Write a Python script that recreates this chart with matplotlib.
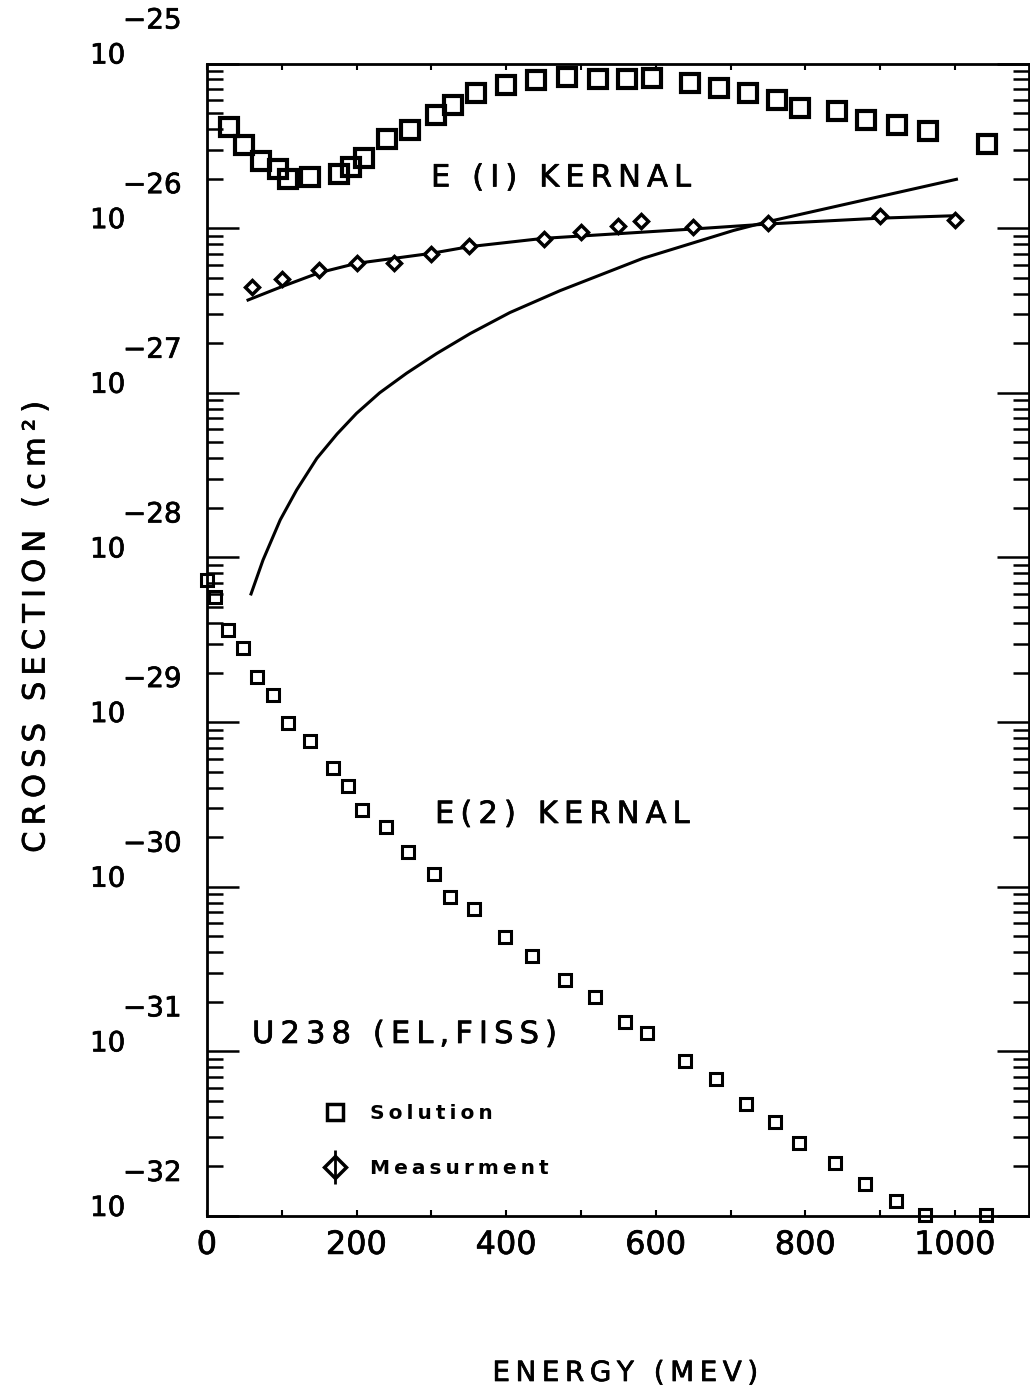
import matplotlib
matplotlib.use("Agg")
import matplotlib.pyplot as plt
import matplotlib.patheffects as pe
from matplotlib.ticker import LogLocator, MultipleLocator, NullFormatter
from matplotlib.transforms import blended_transform_factory, offset_copy
from matplotlib.legend_handler import HandlerErrorbar

plt.rcParams['font.family'] = 'DejaVu Sans'

W, H = 1030, 1389

# E(1) kernel solution, cross section (cm^2) vs energy (MeV)
e1_energy = [29, 50, 72, 95, 109, 138, 176, 193, 210, 241, 271, 306, 329, 360, 400,
             440, 482, 523, 561, 595, 646, 684, 724, 762, 793, 842, 881, 922, 964, 1043]
e1_solution = [4.13e-26, 3.20e-26, 2.54e-26, 2.29e-26, 1.98e-26, 2.05e-26, 2.13e-26, 2.36e-26,
               2.65e-26, 3.47e-26, 3.94e-26, 4.86e-26, 5.60e-26, 6.59e-26, 7.40e-26, 7.94e-26,
               8.32e-26, 8.02e-26, 8.02e-26, 8.13e-26, 7.59e-26, 7.06e-26, 6.59e-26, 6.00e-26,
               5.35e-26, 5.16e-26, 4.54e-26, 4.23e-26, 3.91e-26, 3.24e-26]

# measured U238 (el, fiss) cross section
meas_energy = [60, 100, 150, 200, 250, 300, 350, 450, 500, 550, 580, 650, 750, 900, 1000]
meas_xs = [4.38e-27, 4.89e-27, 5.57e-27, 6.17e-27, 6.11e-27, 6.97e-27, 7.80e-27, 8.55e-27,
           9.48e-27, 1.03e-26, 1.11e-26, 1.02e-26, 1.07e-26, 1.19e-26, 1.12e-26]

# smooth curve through the measurements
fit_energy = [55, 100, 150, 200, 300, 350, 450, 650, 750, 900, 1000]
fit_xs = [3.66e-27, 4.41e-27, 5.36e-27, 6.11e-27, 7.03e-27, 7.71e-27, 8.67e-27,
          9.88e-27, 1.06e-26, 1.15e-26, 1.19e-26]

# steeply rising curve
rise_energy = [59, 75, 98, 120, 147, 174, 200, 231, 267, 307, 352, 405, 472, 583, 704, 748, 1002]
rise_xs = [6.0e-29, 9.64e-29, 1.69e-28, 2.57e-28, 4.0e-28, 5.62e-28, 7.50e-28, 1.00e-27,
           1.315e-27, 1.73e-27, 2.29e-27, 3.07e-27, 4.17e-27, 6.56e-27, 9.68e-27, 1.09e-26, 1.98e-26]

# E(2) kernel solution
e2_energy = [0, 11, 28, 48, 67, 88, 108, 138, 169, 189, 208, 239, 269, 303, 325, 357,
             399, 435, 479, 519, 559, 588, 639, 681, 721, 760, 792, 840, 880, 921, 960, 1041]
e2_solution = [7.30e-29, 5.73e-29, 3.62e-29, 2.81e-29, 1.88e-29, 1.46e-29, 9.91e-30, 7.66e-30,
               5.27e-30, 4.10e-30, 2.94e-30, 2.29e-30, 1.63e-30, 1.19e-30, 8.63e-31, 7.29e-31,
               4.93e-31, 3.81e-31, 2.71e-31, 2.13e-31, 1.51e-31, 1.30e-31, 8.73e-32, 6.75e-32,
               4.82e-32, 3.72e-32, 2.76e-32, 2.10e-32, 1.57e-32, 1.23e-32, 1.01e-32, 1.01e-32]

decades = list(range(-32, -24))

# pen-plotter strokes are a little heavier than the regular font
PEN = [pe.withStroke(linewidth=0.5, foreground='k')]


def spaced(s):
    # wide plotter-style lettering
    return '\u2009'.join(s)


def px(x, y):
    return x / W, 1 - y / H


fig = plt.figure(figsize=(W / 100, H / 100), dpi=100)
fig.patch.set_facecolor('white')

left, right, top, bottom = 206.9, 1029, 63.5, 1216
ax = fig.add_axes([left / W, 1 - bottom / H, (right - left) / W, (bottom - top) / H])
ax.set_yscale('log')
ax.set_xlim(0, 1099)
ax.set_ylim(1e-32, 1e-25)

ax.plot(e1_energy, e1_solution, ls='none', marker='s', ms=13, mew=3,
        mfc='none', mec='k', clip_on=False)
ax.plot(e2_energy, e2_solution, ls='none', marker='s', ms=8, mew=2.2,
        mfc='none', mec='k', clip_on=False)
ax.plot(fit_energy, fit_xs, color='k', lw=2.2)
ax.plot(rise_energy, rise_xs, color='k', lw=2.2)
ax.plot(meas_energy, meas_xs, ls='none', marker='D', ms=7, mew=2.5,
        mfc='white', mec='k', zorder=3)

# axes: plotter style inward ticks
for sp in ax.spines.values():
    sp.set_linewidth(2)
ax.xaxis.set_major_locator(MultipleLocator(200))
ax.xaxis.set_minor_locator(MultipleLocator(100))
ax.tick_params(axis='x', which='both', direction='in', top=True, bottom=True,
               length=4.5, width=1.5, labelsize=23, pad=10)
ax.yaxis.set_major_locator(LogLocator(base=10, numticks=20))
ax.yaxis.set_minor_locator(LogLocator(base=10, subs=range(2, 10), numticks=20))
ax.yaxis.set_major_formatter(NullFormatter())
ax.yaxis.set_minor_formatter(NullFormatter())
ax.tick_params(axis='y', which='major', direction='in', left=True, right=True,
               length=23, width=1.8)
ax.tick_params(axis='y', which='minor', direction='in', left=True, right=True,
               length=11.5, width=1.8)
for lab in ax.get_xticklabels():
    lab.set_path_effects(PEN)

# decade labels drawn as "10" with a full-size exponent above
lab_tr = blended_transform_factory(fig.transFigure, ax.transData)
exp_tr = offset_copy(lab_tr, fig=fig, y=25.2, units='points')
for e in decades:
    ax.text(90 / W, 10.0 ** e, '10', transform=lab_tr, fontsize=20,
            ha='left', va='baseline', path_effects=PEN)
    ax.text(123 / W, 10.0 ** e, f'\u2212{-e}', transform=exp_tr, fontsize=20,
            ha='left', va='baseline', path_effects=PEN)

# legend
sol_handle, = ax.plot([], [], ls='none', marker='s', ms=11, mew=2.5, mfc='none', mec='k')
meas_handle = ax.errorbar([], [], yerr=[], fmt='D', ms=11, mew=2.5, mfc='none', mec='k',
                          ecolor='k', elinewidth=2, capsize=6, capthick=2)
ax.legend([sol_handle, meas_handle], [spaced('Solution'), spaced('Measurment')],
          loc='upper left', bbox_to_anchor=px(325, 1104), bbox_transform=fig.transFigure,
          frameon=False, prop={'weight': 'bold', 'size': 14.5}, handlelength=1.0,
          handletextpad=1.25, labelspacing=1.8, borderpad=0, borderaxespad=0,
          numpoints=1, handler_map={type(meas_handle): HandlerErrorbar(yerr_size=0.85)})

# annotations
fig.text(*px(431, 186.5), spaced('E (I) KERNAL'), fontsize=22, ha='left', va='baseline',
         path_effects=PEN)
fig.text(*px(435, 823), spaced('E(2) KERNAL'), fontsize=22, ha='left', va='baseline',
         path_effects=PEN)
fig.text(*px(252, 1043), spaced('U238 (EL,FISS)'), fontsize=22, ha='left', va='baseline',
         path_effects=PEN)
fig.text(*px(625, 1373), spaced('ENERGY (MEV)'), fontsize=20, ha='center', va='center',
         path_effects=PEN)
fig.text(*px(36, 627), spaced('CROSS SECTION (cm\u00b2)'), fontsize=22, rotation=90,
         ha='center', va='center', path_effects=PEN)

fig.savefig('out.png', dpi=100, facecolor='white')
